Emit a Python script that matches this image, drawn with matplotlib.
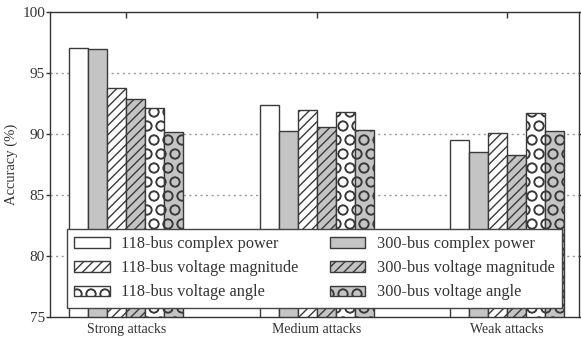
import matplotlib
matplotlib.use("Agg")
import matplotlib.pyplot as plt
import numpy as np

# Accuracy (%) per attack strength
groups = ["Strong attacks", "Medium attacks", "Weak attacks"]
series_names = [
    "118-bus complex power",
    "300-bus complex power",
    "118-bus voltage magnitude",
    "300-bus voltage magnitude",
    "118-bus voltage angle",
    "300-bus voltage angle",
]
cp_118 = [97.0, 92.35, 89.5]
cp_300 = [96.95, 90.25, 88.5]
vm_118 = [93.75, 91.95, 90.05]
vm_300 = [92.9, 90.6, 88.3]
va_118 = [92.1, 91.8, 91.75]
va_300 = [90.15, 90.3, 90.2]
series_values = [cp_118, cp_300, vm_118, vm_300, va_118, va_300]

fills = ["white", "#c4c4c4", "white", "#c4c4c4", "white", "#c4c4c4"]
hatches = [None, None, "///", "///", "O", "O"]

# lower dpi makes the hatch pattern denser; point sizes are scaled back up
DPI = 84
S = 100 / DPI

plt.rcParams["font.family"] = ["Liberation Serif", "DejaVu Serif"]
plt.rcParams["hatch.linewidth"] = 1.0 * S

fig = plt.figure(figsize=(581 / DPI, 339 / DPI), dpi=DPI)
ax = fig.add_axes([0.086, 0.065, 0.911, 0.9])

x = np.arange(len(groups))
width = 0.1
bars = []
for i, vals in enumerate(series_values):
    offset = (i - 2.5) * width
    b = ax.bar(x + offset, vals, width, color=fills[i], edgecolor="#3a3a3a",
               linewidth=1.0 * S, hatch=hatches[i], label=series_names[i], zorder=2)
    bars.append(b)

ax.set_ylim(75, 100)
ax.set_xlim(-0.4, 2.378)
ax.set_yticks([75, 80, 85, 90, 95, 100])
ax.set_xticks(x)
ax.set_xticklabels(groups, fontsize=10 * S)
ax.set_ylabel("Accuracy (%)", fontsize=10.5 * S, color="#333333")
ax.yaxis.set_label_coords(-0.06, 0.5)
ax.tick_params(axis="y", labelsize=11 * S, direction="out", length=3 * S, pad=0.5 * S,
               width=S, color="#333333", labelcolor="#333333")
ax.tick_params(axis="y", which="both", right=True)
ax.tick_params(axis="x", direction="in", length=4 * S, width=S, top=True, color="#333333",
               labelcolor="#333333", pad=4 * S)

for yv in [80, 85, 90, 95]:
    ax.axhline(yv, color="#999999", linestyle=(0, (1.5, 2.5)), linewidth=1.0 * S, zorder=1)

for s in ax.spines.values():
    s.set_color("#333333")
    s.set_linewidth(1.0 * S)

order = [0, 2, 4, 1, 3, 5]
handles = [bars[i] for i in order]
labels = [series_names[i] for i in order]
leg = ax.legend(handles, labels, ncol=2, loc="lower left",
                bbox_to_anchor=(0.032, 0.03, 0.96, 0.2), borderaxespad=0,
                fontsize=11.7 * S, handlelength=2.2, handleheight=0.6,
                handletextpad=0.7, labelspacing=0.5, columnspacing=1.9,
                borderpad=0.45, fancybox=False, framealpha=1, edgecolor="#444444")
leg.get_frame().set_linewidth(1.0 * S)
for t in leg.get_texts():
    t.set_color("#333333")
leg.set_zorder(5)

fig.savefig("out.png", dpi=DPI)
